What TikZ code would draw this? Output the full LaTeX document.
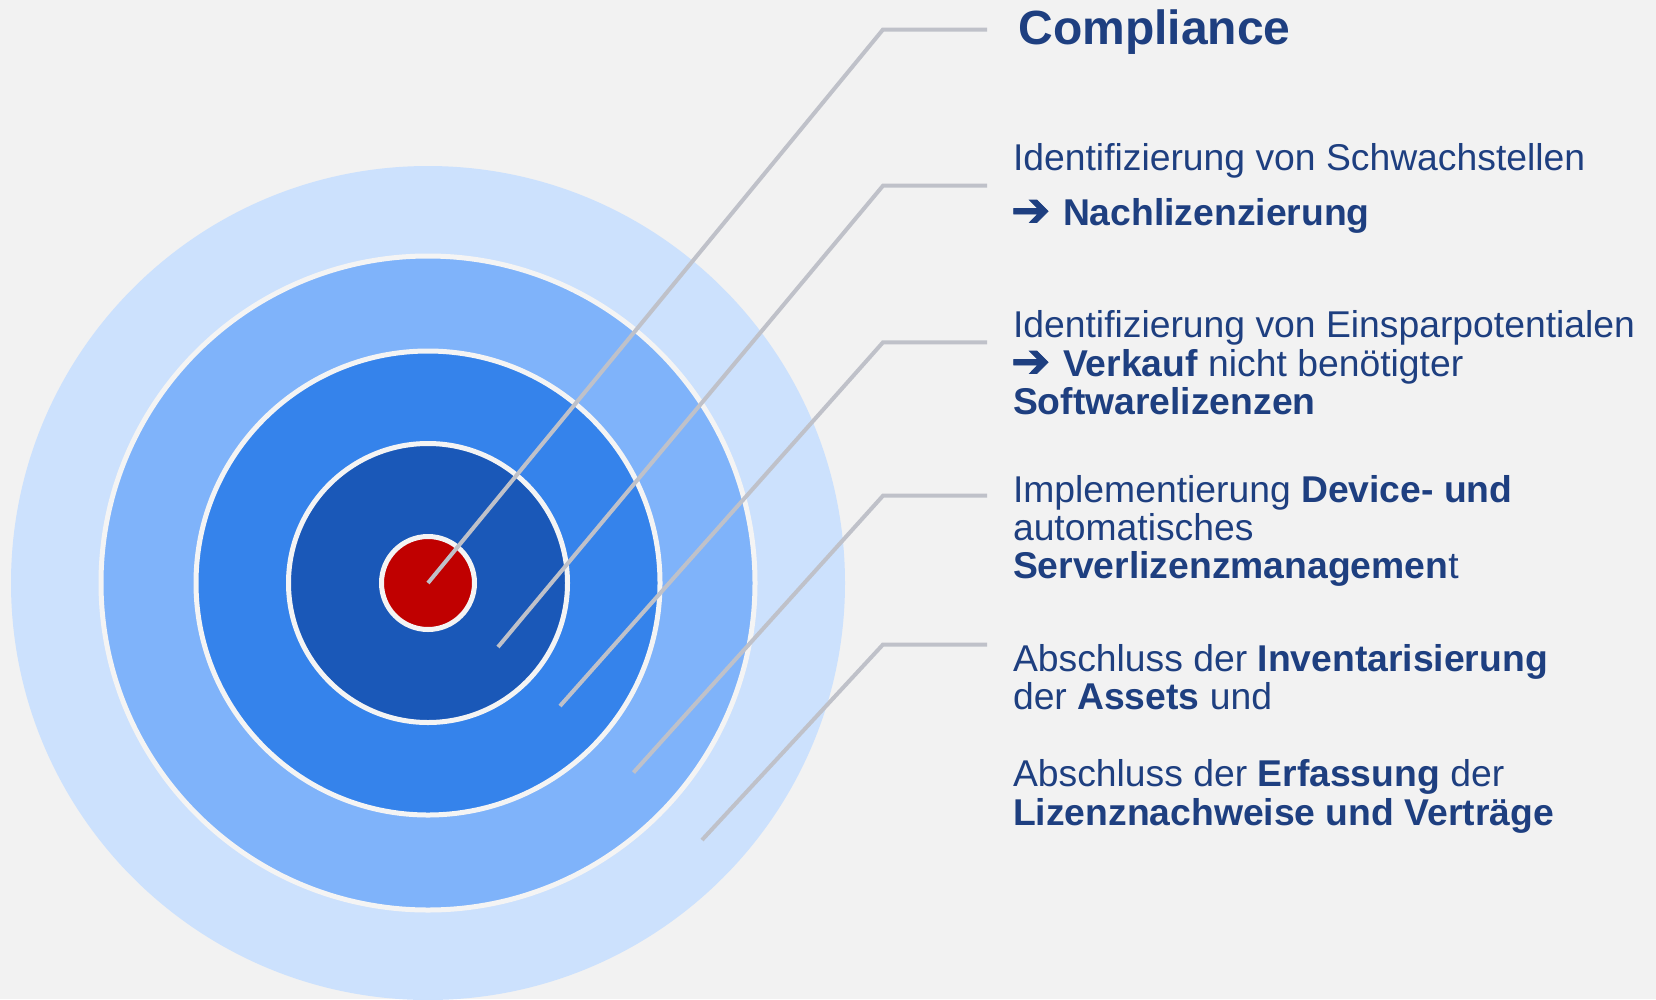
\documentclass[tikz,border=0pt]{standalone}
\usepackage{fontspec}
\setmainfont{Liberation Sans}
\newfontfamily\symfont[FakeBold=1.6]{DejaVu Sans}
\definecolor{bg}{HTML}{F2F2F2}
\definecolor{c1}{HTML}{CCE1FD}
\definecolor{c2}{HTML}{7FB3FA}
\definecolor{c3}{HTML}{3583EB}
\definecolor{c4}{HTML}{1A58B8}
\definecolor{c5}{HTML}{C00000}
\definecolor{ringline}{HTML}{F4F4F4}
\definecolor{leadgray}{HTML}{BFC1C9}
\definecolor{txtblue}{HTML}{1E3F80}
\newcommand{\arr}{\makebox[50pt][l]{\hspace*{-2pt}\raisebox{-1pt}{\fontsize{47}{47}\symfont\bfseries ➔}}}
\tikzset{
  ring/.style={draw=ringline, line width=5pt},
  leader/.style={draw=leadgray, line width=4pt},
  txt/.style={anchor=base west, inner sep=0pt, outer sep=0pt, text=txtblue,
    font=\fontsize{37.3}{38}\selectfont},
  ttl/.style={anchor=base west, inner sep=0pt, outer sep=0pt, text=txtblue,
    font=\fontsize{48}{50}\selectfont\bfseries},
}
\begin{document}
\begin{tikzpicture}[x=1pt,y=-1pt]
\useasboundingbox (0,0) rectangle (1656,999);
\fill[bg] (0,0) rectangle (1656,999);
% target
\coordinate (ctr) at (428,583);
\fill[c1] (ctr) circle[radius=417pt];
\filldraw[fill=c2, ring] (ctr) circle[radius=327pt];
\filldraw[fill=c3, ring] (ctr) circle[radius=232pt];
\filldraw[fill=c4, ring] (ctr) circle[radius=139.5pt];
\filldraw[fill=c5, ring] (ctr) circle[radius=46.5pt];
% leader points
\coordinate (p1) at (428,583);   \coordinate (k1) at (883,29.5);  \coordinate (e1) at (987,29.5);
\coordinate (p2) at (498,647);   \coordinate (k2) at (883,185.7); \coordinate (e2) at (987,185.7);
\coordinate (p3) at (560,706);   \coordinate (k3) at (883,342.3); \coordinate (e3) at (987,342.3);
\coordinate (p4) at (633.5,772.5); \coordinate (k4) at (883,495.7); \coordinate (e4) at (987,495.7);
\coordinate (p5) at (702,840);   \coordinate (k5) at (883,644.5); \coordinate (e5) at (987,644.5);
\draw[leader] (p1) -- (k1) -- (e1);
\draw[leader] (p2) -- (k2) -- (e2);
\draw[leader] (p3) -- (k3) -- (e3);
\draw[leader] (p4) -- (k4) -- (e4);
\draw[leader] (p5) -- (k5) -- (e5);
% texts
\node[ttl] (title) at (1018.5,44.3) {Compliance};
\node[txt] (a1) at (1013,170) {Identifizierung von Schwachstellen};
\node[txt] (a2) at (1013,225) {\arr\textbf{Nachlizenzierung}};
\node[txt] (b1) at (1013,337.7) {Identifizierung von Einsparpotentialen};
\node[txt] (b2) at (1013,376) {\arr\textbf{Verkauf} nicht benötigter};
\node[txt] (b3) at (1013,414) {\textbf{Softwarelizenzen}};
\node[txt] (c1n) at (1013,502.3) {Implementierung \textbf{Device- und}};
\node[txt] (c2n) at (1013,540) {automatisches};
\node[txt] (c3n) at (1013,578.3) {\textbf{Serverlizenzmanagemen}t};
\node[txt] (d1) at (1013,671.7) {Abschluss der \textbf{Inventarisierung}};
\node[txt] (d2) at (1013,709.3) {der \textbf{Assets} und};
\node[txt] (d3) at (1013,786.7) {Abschluss der \textbf{Erfassung} der};
\node[txt] (d4) at (1013,825) {\textbf{Lizenznachweise und Verträge}};
\end{tikzpicture}
\end{document}
